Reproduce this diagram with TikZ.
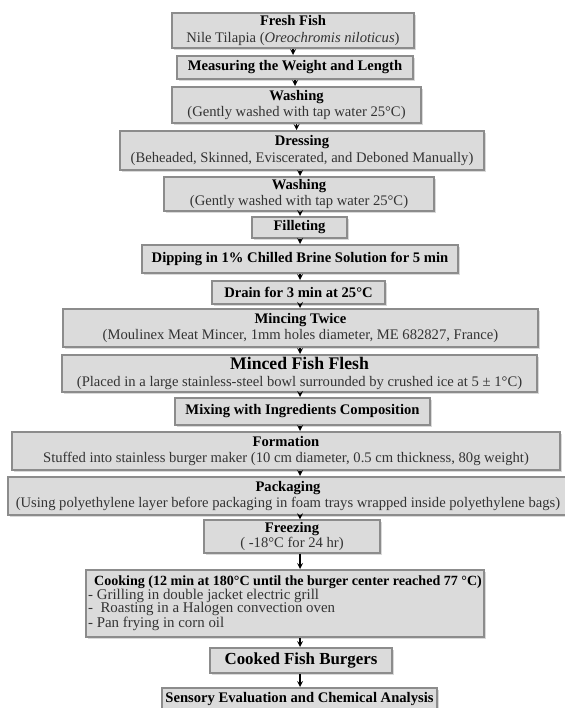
\documentclass[tikz,border=0pt]{standalone}
\usepackage{fontspec}
\setmainfont{Liberation Serif}
\usetikzlibrary{shadows}

\newcommand{\subtext}[1]{{\color{black!80}#1}}

\begin{document}
\begin{tikzpicture}[x = 0.25mm, y = -0.25mm, line width = 0.3mm,
	stepbox/.style = {draw = black!45, fill = black!14, line width = 0.5mm, inner sep = 0.5mm, align = center,
		font = \fontsize{10.4}{11.6}\selectfont,
		drop shadow = {shadow xshift = 0.5mm, shadow yshift = -0.5mm, opacity = 0.3}},
	arr/.style = {-stealth, line width = 0.3mm}]
	\useasboundingbox (0, 0) rectangle (564, 708);

	% Vorbereitung:
	\node [stepbox, minimum width = 60.5mm, minimum height = 8.75mm] (fresh) at (293, 30.5)
		{\textbf{Fresh Fish}\\ \subtext{Nile Tilapia (\textit{Oreochromis niloticus})}};
	\node [stepbox, minimum width = 59mm, minimum height = 5.75mm] (measure) at (295, 67.5)
		{\textbf{Measuring the Weight and Length}};
	\node [stepbox, minimum width = 62.25mm, minimum height = 9mm] (wash1) at (296.5, 105)
		{\textbf{Washing}\\ \subtext{(Gently washed with tap water 25°C)}};
	\node [stepbox, minimum width = 91mm, minimum height = 9.75mm] (dress) at (302, 150.5)
		{\textbf{Dressing}\\ \subtext{(Beheaded, Skinned, Eviscerated, and Deboned Manually)}};
	\node [stepbox, minimum width = 67.5mm, minimum height = 8.5mm] (wash2) at (299, 194)
		{\textbf{Washing}\\ \subtext{(Gently washed with tap water 25°C)}};
	\node [stepbox, minimum width = 23.75mm, minimum height = 5.25mm] (fillet) at (299.5, 227.5)
		{\textbf{Filleting}};
	\node [stepbox, minimum width = 79mm, minimum height = 7mm] (dip) at (300, 259)
		{\textbf{Dipping in 1\% Chilled Brine Solution for 5 min}};
	\node [stepbox, minimum width = 43.25mm, minimum height = 5.75mm] (drain) at (298.5, 292.5)
		{\textbf{Drain for 3 min at 25°C}};

	% Verarbeitung:
	\node [stepbox, minimum width = 118.75mm, minimum height = 9.5mm] (mince) at (300.5, 328)
		{\textbf{Mincing Twice}\\ \subtext{(Moulinex Meat Mincer, 1mm holes diameter, ME 682827, France)}};
	\node [stepbox, minimum width = 118.75mm, minimum height = 9.25mm] (flesh) at (299.5, 373.5)
		{\textbf{\fontsize{12.6}{13}\selectfont Minced Fish Flesh}\\ \subtext{(Placed in a large stainless-steel bowl surrounded by crushed ice at 5 ± 1°C)}};
	\node [stepbox, minimum width = 63.75mm, minimum height = 6.75mm] (mix) at (302.5, 411.5)
		{\textbf{Mixing with Ingredients Composition}};
	\node [stepbox, minimum width = 137mm, minimum height = 9.5mm] (form) at (286, 451)
		{\textbf{Formation}\\ \subtext{Stuffed into stainless burger maker (10 cm diameter, 0.5 cm thickness, 80g weight)}};
	\node [stepbox, minimum width = 140mm, minimum height = 9.5mm] (pack) at (288, 496)
		{\textbf{Packaging}\\ \subtext{(Using polyethylene layer before packaging in foam trays wrapped inside polyethylene bags)}};
	\node [stepbox, minimum width = 44mm, minimum height = 6.75mm, font = \fontsize{10.4}{10.8}\selectfont] (freeze) at (292, 536.5)
		{\textbf{Freezing}\\ \subtext{( -18°C for 24 hr)}};

	% Garen:
	\node [stepbox, minimum width = 96.5mm, minimum height = 16.75mm, align = left,
		font = \fontsize{10.6}{9.7}\selectfont] (cook) at (285, 603.5)
		{\hspace*{1.5mm}\textbf{\fontsize{10}{9.7}\selectfont Cooking (12 min at 180°C until the burger center reached 77 °C)}\\
		\subtext{- Grilling in double jacket electric grill}\\
		\subtext{-\ \ Roasting in a Halogen convection oven}\\
		\subtext{- Pan frying in corn oil}};
	\node [stepbox, minimum width = 45.5mm, minimum height = 6.25mm, font = \fontsize{12}{13}\selectfont] (burgers) at (301, 660.5)
		{\textbf{Cooked Fish Burgers}};
	\node [stepbox, minimum width = 68.75mm, minimum height = 5.5mm] (sensory) at (299.5, 699)
		{\textbf{Sensory Evaluation and Chemical Analysis}};

	% Pfeile
	\coordinate (axis) at (300, 0);
	\foreach \a/\b in {fresh/measure, measure/wash1, wash1/dress} {
		\draw [arr] (\a.south) -- (\a.south |- \b.north);
	}
	\foreach \a/\b in {dress/wash2, wash2/fillet, fillet/dip, dip/drain, drain/mince, mince/flesh, flesh/mix,
		mix/form, form/pack, pack/freeze, freeze/cook, cook/burgers, burgers/sensory} {
		\draw [arr] (\a.south -| axis) -- (\b.north -| axis);
	}
\end{tikzpicture}
\end{document}
